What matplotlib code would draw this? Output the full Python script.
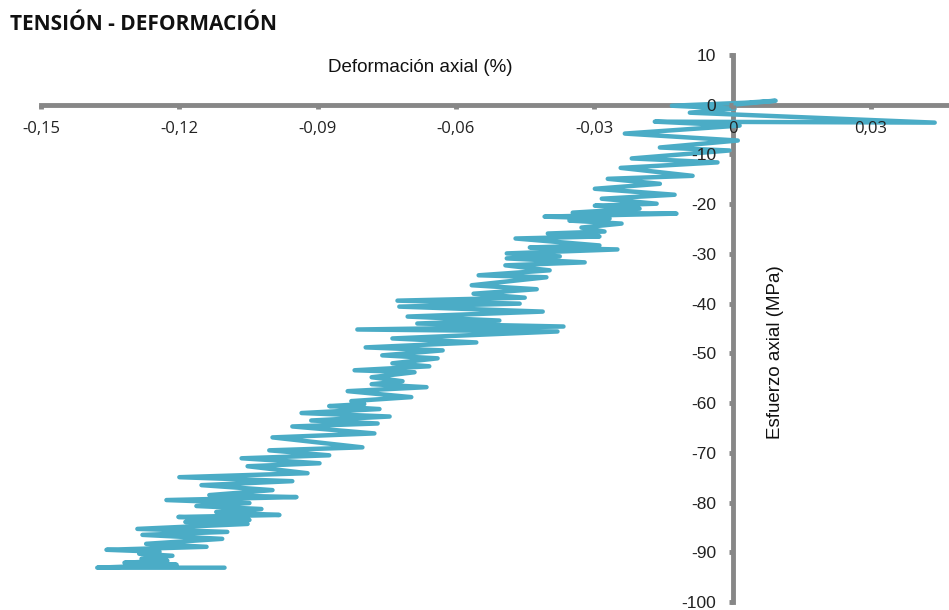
import matplotlib
matplotlib.use("Agg")
import matplotlib.pyplot as plt
import numpy as np

# Deformación axial (%) and Esfuerzo axial (MPa)
strain = [0.0, 0.0093, 0.0026, -0.0132, 0.0004, -0.0093, 0.0438, -0.0169, 0.0015, -0.0234,
          0.0011, -0.0158, -0.0007, -0.0219, -0.0033, -0.0243, -0.0087, -0.0271, -0.0158, -0.0299,
          -0.0126, -0.0284, -0.0165, -0.0299, -0.0202, -0.0347, -0.0122, -0.0408, -0.0267, -0.0354,
          -0.0241, -0.0328, -0.0278, -0.0401, -0.0289, -0.0471, -0.0289, -0.0440, -0.0250, -0.0490,
          -0.0375, -0.0490, -0.0321, -0.0493, -0.0397, -0.0551, -0.0404, -0.0566, -0.0425, -0.0562,
          -0.0451, -0.0727, -0.0462, -0.0723, -0.0412, -0.0705, -0.0506, -0.0684, -0.0367, -0.0814,
          -0.0380, -0.0738, -0.0556, -0.0796, -0.0629, -0.0760, -0.0640, -0.0738, -0.0658, -0.0820,
          -0.0690, -0.0783, -0.0716, -0.0783, -0.0664, -0.0835, -0.0697, -0.0827, -0.0799, -0.0875,
          -0.0766, -0.0935, -0.0744, -0.0914, -0.0770, -0.0955, -0.0777, -0.0998, -0.0803, -0.1005,
          -0.0875, -0.1065, -0.0896, -0.1052, -0.0922, -0.1200, -0.0955, -0.1152, -0.0998, -0.1135,
          -0.0946, -0.1228, -0.1048, -0.1163, -0.1022, -0.1120, -0.0983, -0.1202, -0.1048, -0.1187,
          -0.1052, -0.1291, -0.1096, -0.1280, -0.1107, -0.1272, -0.1141, -0.1358, -0.1243, -0.1287,
          -0.1215, -0.1282, -0.1226, -0.1319, -0.1206, -0.1378, -0.1102]
stress = [0.0, 0.8, 0.4, -0.2, -0.8, -1.6, -3.6, -3.4, -4.2, -5.8,
          -7.2, -8.6, -9.2, -10.8, -11.6, -12.7, -14.3, -14.9, -15.9, -16.9,
          -18.1, -18.9, -19.9, -20.3, -20.9, -21.7, -21.9, -22.5, -22.9, -23.3,
          -23.9, -24.7, -25.5, -25.9, -26.5, -26.9, -28.3, -28.7, -29.1, -29.9,
          -30.5, -30.9, -31.7, -32.3, -33.3, -34.3, -34.7, -36.3, -37.1, -38.0,
          -38.8, -39.4, -40.0, -40.6, -41.6, -42.6, -43.4, -44.0, -44.6, -45.2,
          -45.6, -47.0, -47.8, -48.8, -49.4, -50.4, -51.0, -52.0, -52.6, -53.4,
          -53.8, -54.8, -55.6, -56.2, -56.8, -57.6, -58.8, -59.6, -60.2, -60.6,
          -61.2, -62.0, -62.7, -63.5, -64.1, -64.7, -66.1, -66.9, -68.9, -69.5,
          -70.5, -71.1, -72.1, -72.7, -74.1, -74.9, -75.7, -76.5, -77.5, -78.5,
          -78.9, -79.5, -80.1, -80.7, -81.3, -81.9, -82.5, -82.9, -83.5, -83.9,
          -84.3, -85.3, -85.9, -86.5, -87.3, -88.3, -88.9, -89.5, -89.9, -90.3,
          -90.7, -91.3, -91.7, -92.1, -92.5, -93.1, -93.1]

x_ticks = [-0.15, -0.12, -0.09, -0.06, -0.03, 0, 0.03]
x_tick_labels = ["-0,15", "-0,12", "-0,09", "-0,06", "-0,03", "0", "0,03"]
y_ticks = [10, 0, -10, -20, -30, -40, -50, -60, -70, -80, -90, -100]

title = "TENSIÓN - DEFORMACIÓN"
x_title = "Deformación axial (%)"
y_title = "Esfuerzo axial (MPa)"

W, H = 949, 610
fig = plt.figure(figsize=(W / 100, H / 100), dpi=100)
ax = fig.add_axes([41 / W, 1 - 602 / H, 1 - 41 / W, (602 - 55) / H])

ax.plot(strain, stress, color="#4BACC6", lw=3.2, solid_joinstyle="round",
        solid_capstyle="round", zorder=2.2, clip_on=False)

ax.set_xlim(-0.15, 0.0469)
ax.set_ylim(-100, 10)

axis_col = "#878787"
for s in ["top", "right"]:
    ax.spines[s].set_visible(False)
ax.spines["left"].set_position(("data", 0))
ax.spines["bottom"].set_position(("data", 0))
for s in ["left", "bottom"]:
    ax.spines[s].set_color(axis_col)
    ax.spines[s].set_linewidth(3.5)
    ax.spines[s].set_zorder(2.0)
ax.xaxis.set_zorder(3)
ax.yaxis.set_zorder(3)

ax.set_xticks(x_ticks)
ax.set_xticklabels(x_tick_labels, fontfamily="Open Sans", fontsize=12, color="#222222")
ax.set_yticks(y_ticks)
ax.set_yticklabels([str(v) for v in y_ticks], fontfamily="Liberation Sans", fontsize=12.5,
                   color="#222222")
ax.tick_params(axis="x", direction="out", length=3, width=3.5, color=axis_col, pad=9)
ax.tick_params(axis="y", direction="out", length=3, width=3.5, color=axis_col, pad=9)
ax.patch.set_alpha(0)

fig.text(10 / W, 1 - 25 / H, title, fontfamily="Open Sans", fontweight="bold",
         fontsize=15, ha="left", va="center", color="#111111")
fig.text(420 / W, 1 - 68 / H, x_title, fontfamily="Liberation Sans", fontsize=13.5,
         ha="center", va="center", color="#111111")
fig.text(776 / W, 1 - 352 / H, y_title, fontfamily="Liberation Sans", fontsize=13.5,
         rotation=90, ha="center", va="center", color="#111111")

fig.savefig("out.png", dpi=100)
